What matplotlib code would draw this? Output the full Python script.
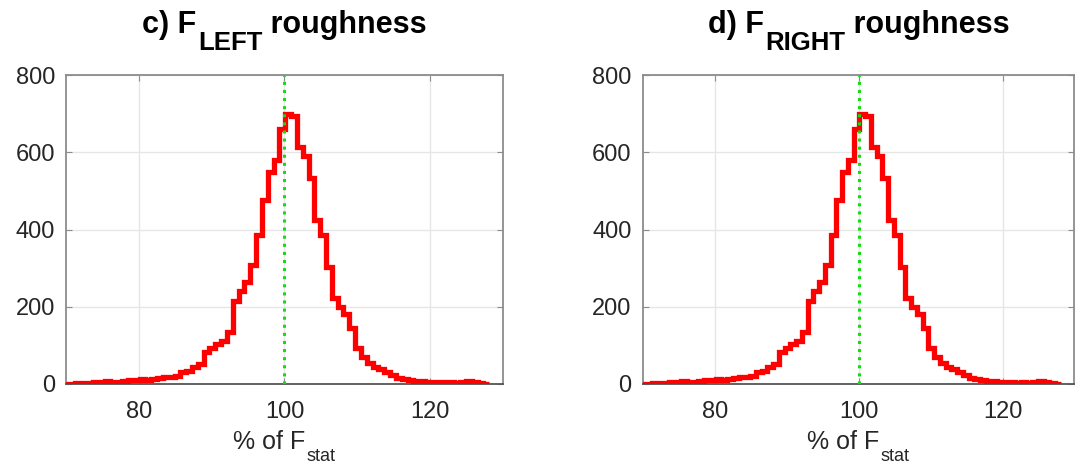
import numpy as np
import matplotlib.pyplot as plt

plt.rcParams['font.family'] = 'Liberation Sans'

# histogram binning (% of F_stat)
bin_start = 69.7
bin_width = 0.8

# counts per bin, left panel (F_LEFT)
counts_left = [0,
               1, 2, 2, 3, 5, 4, 8, 4, 5, 8,
               10, 11, 12, 11, 13, 16, 17, 18, 20, 30,
               33, 45, 52, 82, 92, 103, 112, 135, 216, 240,
               265, 307, 386, 477, 550, 581, 660, 698, 695, 615,
               590, 534, 425, 386, 302, 224, 200, 180, 146, 94,
               70, 55, 45, 40, 30, 24, 15, 12, 10, 8,
               7, 6, 4, 5, 3, 4, 3, 6, 7, 5,
               2, 0]
# right panel (F_RIGHT) looks the same at this resolution
counts_right = list(counts_left)

f_stat_ref = 100
x_ticks = [80, 100, 120]
y_ticks = [0, 200, 400, 600, 800]

panels = [
    ('c) F', 'LEFT', ' roughness', counts_left),
    ('d) F', 'RIGHT', ' roughness', counts_right),
]


def sub_text(ax, y, pre, sub, post, size, sub_size, dx, dy, **kw):
    # text with a MATLAB-like (large, dropped) subscript, built from pieces
    t1 = ax.text(0, y, pre, transform=ax.transAxes, fontsize=size,
                 ha='left', va='baseline', **kw)
    t2 = ax.annotate(sub, xy=(1, 0), xycoords=t1, xytext=(dx, dy),
                     textcoords='offset points', fontsize=sub_size,
                     ha='left', va='top', **kw)
    t3 = ax.annotate(post, xy=(1, 0), xycoords=(t2, t1), xytext=(0, 0),
                     textcoords='offset points', fontsize=size,
                     ha='left', va='bottom', **kw)
    return t1, t3


fig = plt.figure(figsize=(10.75, 4.68), dpi=100)
axes_pos = [[0.0614, 0.1795, 0.4065, 0.660],
            [0.598, 0.1795, 0.4015, 0.660]]

pieces = []
for pos, (pre, sub, post, counts) in zip(axes_pos, panels):
    ax = fig.add_axes(pos)
    edges = bin_start + bin_width * np.arange(len(counts) + 1)
    ax.stairs(counts, edges, color='red', linewidth=3.8, zorder=3)
    ax.axvline(f_stat_ref, color='#11dd11', linestyle=':', linewidth=2.2, zorder=4)

    ax.set_xlim(70, 130)
    ax.set_ylim(0, 800)
    ax.set_xticks(x_ticks)
    ax.set_yticks(y_ticks)
    ax.grid(True, color='#e6e6e6', linewidth=1)
    ax.set_axisbelow(True)
    ax.tick_params(direction='in', length=4, labelsize=17, colors='#8c8c8c',
                   labelcolor='#262626', top=True, right=True)
    ax.tick_params(axis='x', pad=12)
    ax.tick_params(axis='y', pad=8)
    for s in ax.spines.values():
        s.set_color('#8c8c8c')
        s.set_linewidth(1.3)
    ax.spines['bottom'].set_color('#555555')

    pieces.append((ax, sub_text(ax, 1.137, pre, sub, post, 22, 18.5, 1, 6,
                                fontweight='bold')))
    pieces.append((ax, sub_text(ax, -0.212, '% of F', 'stat', '', 18, 13, 1, 4.5,
                                color='#262626')))

# center each composed text over its axes
fig.canvas.draw()
renderer = fig.canvas.get_renderer()
for ax, (t1, t3) in pieces:
    x0 = t1.get_window_extent(renderer).x0
    x1 = t3.get_window_extent(renderer).x1
    mid = ax.bbox.x0 + ax.bbox.width / 2
    shift = mid - (x0 + x1) / 2
    t1.set_x(t1.get_position()[0] + shift / ax.bbox.width)

fig.savefig('out.png', dpi=100)
